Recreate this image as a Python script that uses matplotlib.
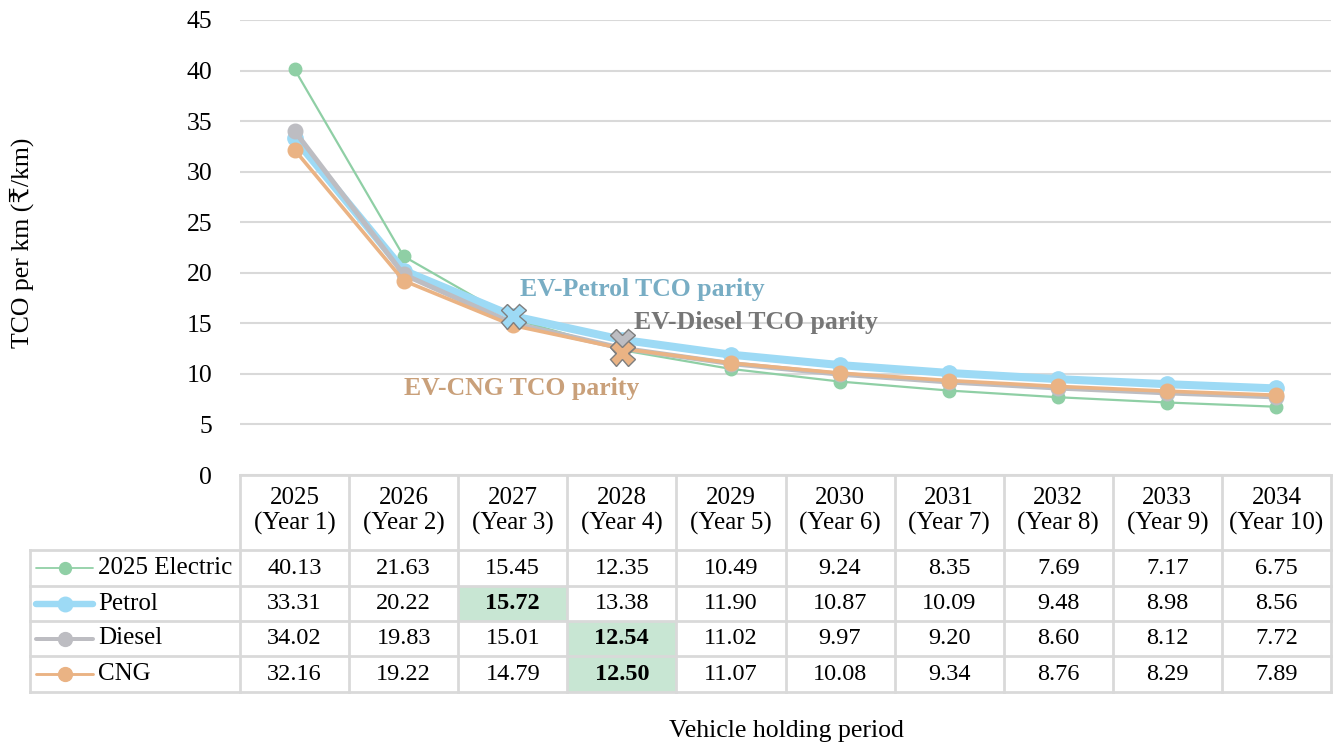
import matplotlib
matplotlib.use("Agg")
import matplotlib.pyplot as plt
from matplotlib import transforms
from matplotlib.lines import Line2D
from matplotlib.patches import Rectangle

plt.rcParams['font.family'] = ['Liberation Serif', 'DejaVu Serif', 'DejaVu Sans']

# ---- data -------------------------------------------------------------
years = ['2025', '2026', '2027', '2028', '2029', '2030', '2031', '2032', '2033', '2034']
year_labels = ['(Year 1)', '(Year 2)', '(Year 3)', '(Year 4)', '(Year 5)',
               '(Year 6)', '(Year 7)', '(Year 8)', '(Year 9)', '(Year 10)']
series_names = ['2025 Electric', 'Petrol', 'Diesel', 'CNG']
electric = [40.13, 21.63, 15.45, 12.35, 10.49, 9.24, 8.35, 7.69, 7.17, 6.75]
petrol = [33.31, 20.22, 15.72, 13.38, 11.90, 10.87, 10.09, 9.48, 8.98, 8.56]
diesel = [34.02, 19.83, 15.01, 12.54, 11.02, 9.97, 9.20, 8.60, 8.12, 7.72]
cng = [32.16, 19.22, 14.79, 12.50, 11.07, 10.08, 9.34, 8.76, 8.29, 7.89]
# year index at which each fuel reaches TCO parity with the EV
parity_idx = {'Petrol': 2, 'Diesel': 3, 'CNG': 3}

values = {'2025 Electric': electric, 'Petrol': petrol, 'Diesel': diesel, 'CNG': cng}
styles = {
    '2025 Electric': dict(color='#8fcfa5', lw=1.6, ms=9.0),
    'Petrol': dict(color='#9ddaf5', lw=5.8, ms=11.0),
    'Diesel': dict(color='#bdbdc2', lw=3.6, ms=10.5),
    'CNG': dict(color='#eab384', lw=2.6, ms=10.5),
}

# ---- figure -----------------------------------------------------------
W, H = 1336, 747
fig = plt.figure(figsize=(W / 100, H / 100), dpi=100)

x0, x1 = 240, 1331
ytop, ybot = 20, 475
ax = fig.add_axes([x0 / W, 1 - ybot / H, (x1 - x0) / W, (ybot - ytop) / H])
ax.set_xlim(-0.5, len(years) - 0.5)
ax.set_ylim(0, 45)
ax.set_yticks(range(0, 50, 5))
ax.set_xticks([])
ax.tick_params(axis='y', length=0, pad=20, labelsize=18.5)
for s in ax.spines.values():
    s.set_visible(False)
ax.grid(axis='y', color='#d9d9d9', lw=1.5)
ax.set_axisbelow(True)

xs = list(range(len(years)))
for name in series_names:
    st = styles[name]
    ax.plot(xs, values[name], color=st['color'], lw=st['lw'], marker='o',
            ms=st['ms'], mec=st['color'], mfc=st['color'], zorder=3,
            solid_capstyle='round')

# parity markers
x_faces = {'Petrol': '#9ddaf5', 'Diesel': '#bdbdc2', 'CNG': '#eab384'}
x_shift = {'Petrol': 0, 'Diesel': 7, 'CNG': -4}
for name, i in parity_idx.items():
    tr = transforms.offset_copy(ax.transData, fig=fig, x=0, y=x_shift[name], units='dots')
    ax.plot([i], [values[name][i]], marker='X', ms=18, mfc=x_faces[name],
            mec='#7f7f7f', mew=1.0, ls='none', transform=tr, zorder=5)

ax.text(3.19, 18.3, 'EV-Petrol TCO parity', color='#78adc4', fontsize=18.5,
        fontweight='bold', ha='center', va='center', zorder=6)
ax.text(4.23, 15.1, 'EV-Diesel TCO parity', color='#767676', fontsize=18.5,
        fontweight='bold', ha='center', va='center', zorder=6)
ax.text(2.08, 8.6, 'EV-CNG TCO parity', color='#c9a07a', fontsize=18.5,
        fontweight='bold', ha='center', va='center', zorder=6)

# ---- data table -------------------------------------------------------
tab = fig.add_axes([0, 0, 1, 1], zorder=-1)
tab.set_xlim(0, W)
tab.set_ylim(H, 0)
tab.axis('off')

col_w = (x1 - x0) / len(years)
row_edges = [475, 550, 586, 621, 656, 692]
leg_x0 = 30
grid_c = '#d9d9d9'

# highlighted parity cells
for r, name in enumerate(series_names):
    if name in parity_idx:
        i = parity_idx[name]
        tab.add_patch(Rectangle((x0 + i * col_w, row_edges[r + 1]), col_w,
                                row_edges[r + 2] - row_edges[r + 1],
                                facecolor='#c8e6d3', edgecolor='none'))

# horizontal rules
tab.plot([x0, x1], [row_edges[0]] * 2, color=grid_c, lw=2)
for y in row_edges[1:]:
    tab.plot([leg_x0, x1], [y, y], color=grid_c, lw=2)
# vertical rules
for k in range(len(years) + 1):
    x = x0 + k * col_w
    tab.plot([x, x], [row_edges[0], row_edges[-1]], color=grid_c, lw=2)
tab.plot([leg_x0, leg_x0], [row_edges[1], row_edges[-1]], color=grid_c, lw=2)

# header
for k, (yr, yl) in enumerate(zip(years, year_labels)):
    cx = x0 + (k + 0.5) * col_w
    tab.text(cx, 498, yr, ha='center', va='center', fontsize=18)
    tab.text(cx, 523, yl, ha='center', va='center', fontsize=18)

# body rows with legend keys
for r, name in enumerate(series_names):
    cy = (row_edges[r + 1] + row_edges[r + 2]) / 2
    st = styles[name]
    tab.add_line(Line2D([36, 93], [cy, cy], color=st['color'], lw=st['lw'] * 0.8,
                        solid_capstyle='round'))
    tab.plot([65], [cy], marker='o', ms=st['ms'] * 0.95, color=st['color'])
    tab.text(98, cy, name, ha='left', va='center', fontsize=18)
    for k, v in enumerate(values[name]):
        bold = parity_idx.get(name) == k
        tab.text(x0 + (k + 0.5) * col_w, cy, f'{v:.2f}', ha='center', va='center',
                 fontsize=17.5, fontweight='bold' if bold else 'normal')

tab.text(22, 243, 'TCO per km (₹/km)', rotation=90, ha='center', va='center',
         fontsize=18.5)
tab.text(786, 731, 'Vehicle holding period', ha='center', va='center', fontsize=18.5)

fig.savefig('out.png', dpi=100)
